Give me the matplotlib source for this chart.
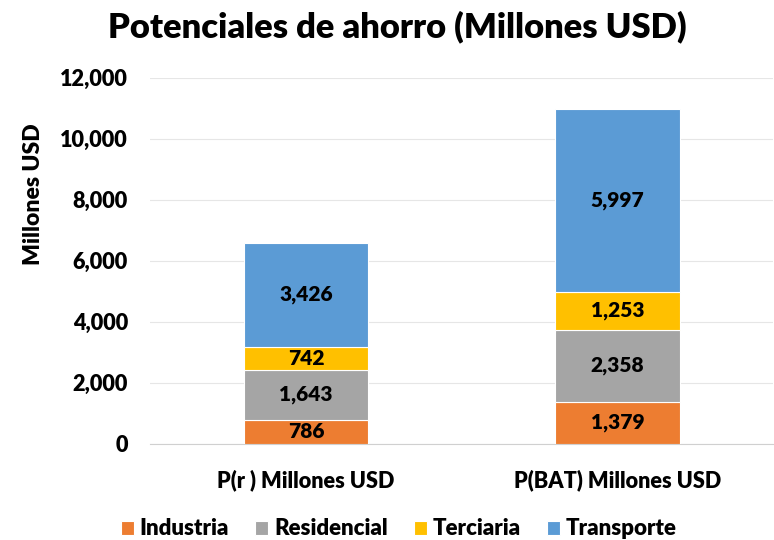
import matplotlib
matplotlib.use("Agg")
import matplotlib.pyplot as plt
from matplotlib.ticker import FuncFormatter

plt.rcParams['font.family'] = ['Lato', 'DejaVu Sans']
plt.rcParams['font.weight'] = 'heavy'

# datos
escenarios = ["P(r ) Millones USD", "P(BAT) Millones USD"]
sectores = ["Industria", "Residencial", "Terciaria", "Transporte"]
industria = [786, 1379]
residencial = [1643, 2358]
terciaria = [742, 1253]
transporte = [3426, 5997]
colores = ["#ED7D31", "#A5A5A5", "#FFC000", "#5B9BD5"]

series = [industria, residencial, terciaria, transporte]

fig = plt.figure(figsize=(7.74, 5.4), dpi=100)
ax = fig.add_axes([0.194, 0.178, 0.805, 0.678])

x = range(len(escenarios))
base = [0, 0]
for nombre, valores, color in zip(sectores, series, colores):
    barras = ax.bar(x, valores, width=0.4, bottom=base, color=color,
                    edgecolor="white", linewidth=0.8, label=nombre, zorder=3)
    for b, v, b0 in zip(barras, valores, base):
        ax.text(b.get_x() + b.get_width() / 2, b0 + v / 2, f"{v:,}",
                ha="center", va="center", fontsize=15, fontweight="heavy",
                color="black", zorder=4)
    base = [a + v for a, v in zip(base, valores)]

ax.set_xlim(-0.5, 1.5)
ax.set_ylim(0, 12000)
ax.set_yticks(range(0, 12001, 2000))
ax.yaxis.set_major_formatter(FuncFormatter(lambda v, p: f"{int(v):,}"))
ax.set_xticks(list(x))
ax.set_xticklabels(escenarios)
ax.tick_params(axis="both", length=0, labelsize=15.6)
ax.tick_params(axis="y", pad=16)
ax.tick_params(axis="x", pad=18)
ax.grid(axis="y", color="#E6E6E6", linewidth=0.8, zorder=0)
for s in ["top", "right", "left"]:
    ax.spines[s].set_visible(False)
ax.spines["bottom"].set_color("#D0D0D0")
ax.set_ylabel("Millones USD", fontsize=16.5, fontweight="heavy")
ax.yaxis.set_label_coords(-0.17, 0.682)

fig.suptitle("Potenciales de ahorro (Millones USD)", fontsize=24.8,
             fontweight="heavy", x=0.513, y=0.98)

fig.legend(loc="lower center", ncol=4, frameon=False, fontsize=16,
           bbox_to_anchor=(0.515, -0.036), handlelength=0.6, handleheight=0.6,
           columnspacing=1.17, handletextpad=0.25)

fig.savefig("out.png", dpi=100)
